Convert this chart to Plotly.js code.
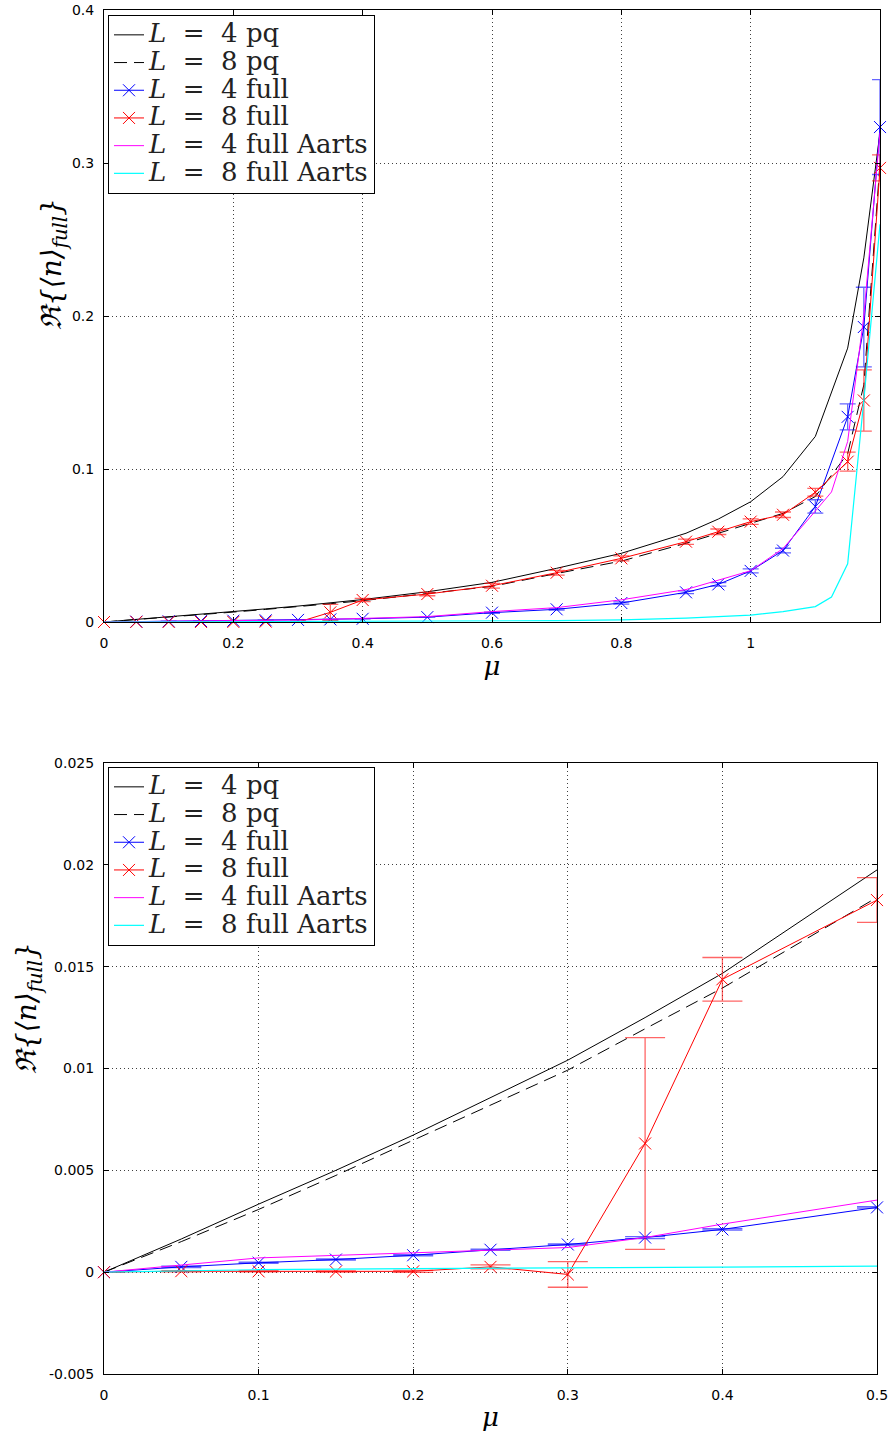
<!DOCTYPE html>
<html><head><meta charset="utf-8">
<script src="https://cdn.plot.ly/plotly-3.0.1.min.js"></script>
<style>html,body{margin:0;padding:0;background:#fff}</style>
</head><body><div id="chart" style="width:893px;height:1432px"></div>
<script>
// chemical potential grid of the pq and full simulations
const mu = [0,0.05,0.1,0.15,0.2,0.25,0.3,0.35,0.4,0.5,0.6,0.7,0.8,0.9,0.95,1.0,1.05,1.1,1.15,1.175,1.2];
const pq4 = [0,0.00163,0.00334,0.0050,0.00673,0.00858,0.01041,0.01250,0.01467,0.01975,0.0259,0.0351,0.0449,0.0580,0.0673,0.0786,0.0950,0.1213,0.179,0.238,0.320];
const pq8 = [0,0.00150,0.00308,0.00475,0.00648,0.00822,0.00992,0.01195,0.01395,0.01840,0.0233,0.0317,0.0398,0.0515,0.0580,0.0650,0.0710,0.0820,0.110,0.155,0.300];
const full4 = [0,0.00026,0.00046,0.00062,0.00083,0.00110,0.00136,0.00170,0.00210,0.00318,0.0061,0.0083,0.0124,0.0194,0.0246,0.0334,0.0467,0.0755,0.1341,0.1928,0.3235];
const full4Err = [0,0.00003,0.00003,0.00003,0.00003,0.00003,0.00003,0.00005,0.00004,0.00004,0.0004,0.0005,0.0007,0.0009,0.0011,0.0013,0.0015,0.0044,0.0085,0.026,0.031];
const full8 = [0,0.00005,0.00004,0.00003,0.00004,0.00026,-0.00011,0.00632,0.01438,0.01827,0.0237,0.0322,0.0416,0.0525,0.0590,0.0656,0.0701,0.0848,0.1048,0.1448,0.2968];
const full8Err = [0,0.00003,0.00003,0.00003,0.00005,0.0001,0.00063,0.0052,0.00107,0.0011,0.0015,0.0015,0.0016,0.0017,0.0018,0.0018,0.0018,0.0025,0.0062,0.020,0.0085];
// Aarts reference curves
const muAarts = [0,0.1,0.2,0.3,0.35,0.4,0.5,0.6,0.7,0.8,0.9,1.0,1.05,1.1,1.125,1.15,1.175,1.2];
const aarts4 = [0,0.0007,0.00095,0.00121,0.0017,0.00236,0.00354,0.0068,0.0094,0.0145,0.0212,0.0335,0.048,0.0725,0.085,0.118,0.200,0.320];
const aarts8 = [0,0.00012,0.00017,0.0002,0.00022,0.00025,0.0003,0.0006,0.0009,0.0014,0.0025,0.0045,0.0068,0.0101,0.0163,0.038,0.145,0.260];
// labels
const names = ['<i>L</i>&nbsp; = &nbsp;4 pq','<i>L</i>&nbsp; = &nbsp;8 pq','<i>L</i>&nbsp; = &nbsp;4 full','<i>L</i>&nbsp; = &nbsp;8 full','<i>L</i>&nbsp; = &nbsp;4 full Aarts','<i>L</i>&nbsp; = &nbsp;8 full Aarts'];
const topXTicks = [0,0.2,0.4,0.6,0.8,1];
const topXText = ['0','0.2','0.4','0.6','0.8','1'];
const topYTicks = [0,0.1,0.2,0.3,0.4];
const topYText = ['0','0.1','0.2','0.3','0.4'];
const botXTicks = [0,0.1,0.2,0.3,0.4,0.5];
const botXText = ['0','0.1','0.2','0.3','0.4','0.5'];
const botYTicks = [-0.005,0,0.005,0.01,0.015,0.02,0.025];
const botYText = ['-0.005','0','0.005','0.01','0.015','0.02','0.025'];
const yTitle = 'ℜ{⟨n⟩<sub>full</sub>}';
const xTitle = 'μ';

const W = 893, H = 1432;
function cut(xs, ys, max) {
  const ox = [], oy = [];
  xs.forEach((x, i) => { if (x <= max + 1e-9) { ox.push(x); oy.push(ys[i]); } });
  return [ox, oy];
}
function makeTraces(xa, ya, leg, xmax, capW) {
  const T = [];
  const styles = [
    {x: mu, y: pq4, line: {color: '#000', width: 1}, mode: 'lines'},
    {x: mu, y: pq8, line: {color: '#000', width: 1, dash: '13px,7px'}, mode: 'lines'},
    {x: mu, y: full4, err: full4Err, line: {color: '#0000ff', width: 1}, mode: 'lines+markers', mc: '#0000ff', ec: 'rgba(0,0,255,0.6)'},
    {x: mu, y: full8, err: full8Err, line: {color: '#ff0000', width: 1}, mode: 'lines+markers', mc: '#ff0000', ec: 'rgba(255,0,0,0.6)'},
    {x: muAarts, y: aarts4, line: {color: '#ff00ff', width: 1}, mode: 'lines'},
    {x: muAarts, y: aarts8, line: {color: '#00ffff', width: 1.2}, mode: 'lines'}
  ];
  styles.forEach((s, i) => {
    const [cx, cy] = cut(s.x, s.y, xmax);
    const t = {
      type: 'scatter', x: cx, y: cy, mode: s.mode, line: s.line,
      name: '<span style="font-size:26px">' + names[i] + '</span>',
      xaxis: xa, yaxis: ya, legend: leg, cliponaxis: false, showlegend: true
    };
    if (s.mc) {
      t.marker = {symbol: 'x-thin-open', size: 12, color: s.mc, line: {width: 1, color: s.mc}};
      const [, ce] = cut(s.x, s.err, xmax);
      t.error_y = {type: 'data', array: ce, visible: true, color: s.ec, thickness: 1.3, width: capW};
    }
    T.push(t);
  });
  return T;
}
const data = [].concat(makeTraces('x', 'y', 'legend', 1.2, 8), makeTraces('x2', 'y2', 'legend2', 0.5, 20));

const axBase = {
  showline: true, linecolor: '#000', linewidth: 1, mirror: 'allticks',
  ticks: 'inside', ticklen: 5, tickwidth: 1, tickcolor: '#000',
  showgrid: true, gridcolor: 'rgba(0,0,0,0.75)', griddash: '1px,3px', gridwidth: 1,
  zeroline: false, tickmode: 'array', automargin: false,
  tickfont: {family: 'DejaVu Sans, Arial, sans-serif', size: 14, color: '#000'}
};
const legBase = {
  xref: 'paper', yref: 'paper', xanchor: 'left', yanchor: 'top',
  bgcolor: '#fff', bordercolor: '#000', borderwidth: 1, tracegroupgap: 0,
  font: {family: 'DejaVu Serif, serif', size: 19, color: '#222'}
};
const xTitleObj = {text: xTitle, standoff: 6, font: {family: 'DejaVu Serif, serif', size: 26, color: '#000', style: 'italic'}};
const titleFont = {family: 'DejaVu Serif, serif', size: 28, color: '#000', style: 'italic'};
const layout = {
  width: W, height: H, margin: {l: 0, r: 0, t: 0, b: 0},
  paper_bgcolor: '#fff', plot_bgcolor: '#fff', showlegend: true,
  xaxis: Object.assign({}, axBase, {domain: [104/W, 880/W], range: [0, 1.2], anchor: 'y',
    tickvals: topXTicks, ticktext: topXText, ticklabelstandoff: 8, title: xTitleObj}),
  yaxis: Object.assign({}, axBase, {domain: [1-622/H, 1-10/H], range: [0, 0.4], anchor: 'x',
    tickvals: topYTicks, ticktext: topYText, ticklabelstandoff: 6}),
  xaxis2: Object.assign({}, axBase, {domain: [104/W, 877/W], range: [0, 0.5], anchor: 'y2',
    tickvals: botXTicks, ticktext: botXText, ticklabelstandoff: 8, title: xTitleObj}),
  yaxis2: Object.assign({}, axBase, {domain: [1-1374/H, 1-763/H], range: [-0.005, 0.025], anchor: 'x2',
    tickvals: botYTicks, ticktext: botYText, ticklabelstandoff: 6}),
  legend: Object.assign({}, legBase, {x: 108/W, y: 1-15/H}),
  legend2: Object.assign({}, legBase, {x: 108/W, y: 1-767/H}),
  annotations: [
    {text: yTitle, xref: 'paper', yref: 'paper', x: 54/W, y: 1-264/H,
     textangle: -90, showarrow: false, xanchor: 'center', yanchor: 'middle', font: titleFont},
    {text: yTitle, xref: 'paper', yref: 'paper', x: 28/W, y: 1-1008/H,
     textangle: -90, showarrow: false, xanchor: 'center', yanchor: 'middle', font: titleFont}
  ]
};
Plotly.newPlot('chart', data, layout, {staticPlot: true, displayModeBar: false});
</script>
</body></html>
